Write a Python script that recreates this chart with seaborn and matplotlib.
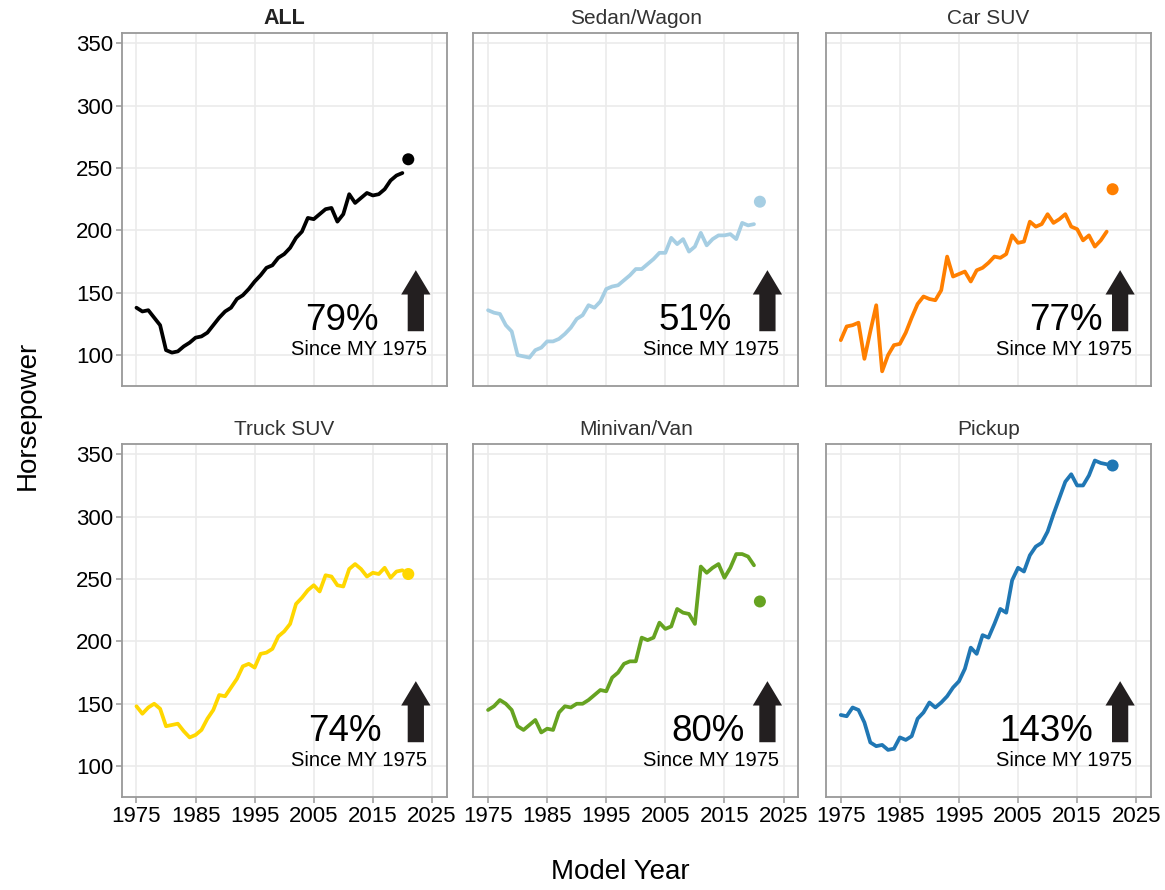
import numpy as np
import pandas as pd
import matplotlib
matplotlib.use("Agg")
import matplotlib.pyplot as plt
from matplotlib.patches import FancyArrow
import seaborn as sns

sns.set_theme(style="whitegrid")
plt.rcParams['font.family'] = ['Liberation Sans', 'DejaVu Sans']

# model years 1975-2020 (final data), 2021 shown as a point (preliminary)
years = list(range(1975, 2021))
prelim_year = 2021

hp_all = [138, 135, 136, 130, 124, 104, 102, 103, 107, 110, 114, 115, 118, 124, 130, 135,
          138, 145, 148, 153, 159, 164, 170, 172, 178, 181, 186, 194, 199, 210, 209, 213,
          217, 218, 207, 213, 229, 222, 226, 230, 228, 229, 233, 240, 244, 246]
hp_sedan = [136, 134, 133, 124, 119, 100, 99, 98, 104, 106, 111, 111, 113, 117, 122, 129,
            132, 140, 138, 143, 153, 155, 156, 160, 164, 169, 169, 173, 177, 182, 182, 194,
            189, 193, 183, 187, 198, 188, 193, 196, 196, 197, 193, 206, 204, 205]
hp_car_suv = [112, 123, 124, 126, 97, 119, 140, 87, 100, 108, 109, 118, 130, 141, 147, 145,
              144, 152, 179, 163, 165, 167, 159, 168, 170, 174, 179, 178, 181, 196, 190, 191,
              207, 203, 205, 213, 206, 209, 213, 203, 201, 192, 196, 187, 192, 199]
hp_truck_suv = [148, 142, 147, 150, 146, 132, 133, 134, 128, 123, 125, 129, 138, 145, 157, 156,
                163, 170, 180, 182, 179, 190, 191, 194, 204, 208, 214, 230, 235, 241, 245, 240,
                253, 252, 245, 244, 258, 262, 258, 252, 255, 254, 259, 251, 256, 257]
hp_minivan = [145, 148, 153, 150, 145, 132, 129, 133, 137, 127, 130, 129, 143, 148, 147, 150,
              150, 153, 157, 161, 160, 171, 175, 182, 184, 184, 203, 201, 203, 215, 210, 212,
              226, 223, 222, 214, 260, 255, 259, 262, 251, 259, 270, 270, 268, 261]
hp_pickup = [141, 140, 147, 145, 135, 119, 116, 117, 113, 114, 123, 121, 124, 138, 143, 151,
             147, 151, 156, 163, 168, 178, 195, 190, 205, 203, 214, 226, 223, 249, 259, 256,
             269, 276, 279, 288, 302, 315, 328, 334, 325, 325, 333, 345, 343, 342]

titles = ["ALL", "Sedan/Wagon", "Car SUV", "Truck SUV", "Minivan/Van", "Pickup"]
series = [hp_all, hp_sedan, hp_car_suv, hp_truck_suv, hp_minivan, hp_pickup]
prelim = [257, 223, 233, 254, 232, 341]
pct_labels = ["79%", "51%", "77%", "74%", "80%", "143%"]
colors = ["#000000", "#A6CEE3", "#FF7F00", "#FFD700", "#66A321", "#2077B4"]

# right edge of the percent label inside each panel (axes fraction)
pct_x = [0.79, 0.795, 0.851, 0.80, 0.836, 0.822]

fig = plt.figure(figsize=(11.65, 8.9), dpi=100)

lefts = [121.7, 473.3, 826]
tops = [33.3, 444.3]
pw, ph = 325, 353
W, H = 1165, 890

grid_c = "#EBEBEB"
frame_c = "#999999"

for i, (name, vals) in enumerate(zip(titles, series)):
    r, c = divmod(i, 3)
    ax = fig.add_axes([lefts[c] / W, 1 - (tops[r] + ph) / H, pw / W, ph / H])
    df = pd.DataFrame({"year": years, "hp": vals})
    sns.lineplot(data=df, x="year", y="hp", ax=ax, color=colors[i], lw=2.7)
    dot = pd.DataFrame({"year": [prelim_year], "hp": [prelim[i]]})
    sns.scatterplot(data=dot, x="year", y="hp", ax=ax, color=colors[i], s=75,
                    edgecolor="none", zorder=5)

    ax.set_xlim(1972.5, 2027.5)
    ax.set_ylim(75, 358)
    ax.set_xticks([1975, 1985, 1995, 2005, 2015, 2025])
    ax.set_yticks([100, 150, 200, 250, 300, 350])
    ax.grid(True, color=grid_c, lw=1.2)
    ax.set_axisbelow(True)
    for s in ax.spines.values():
        s.set_visible(True)
        s.set_color(frame_c)
        s.set_linewidth(1.3)
    ax.set_xlabel("")
    ax.set_ylabel("")
    ax.tick_params(axis="both", length=4, width=1.1, color=frame_c, labelsize=16,
                   labelcolor="black", pad=2)
    if c != 0:
        ax.tick_params(axis="y", left=False, labelleft=False)
    else:
        ax.tick_params(axis="y", left=True)
    if r == 0:
        ax.tick_params(axis="x", bottom=False, labelbottom=False)
    else:
        ax.tick_params(axis="x", bottom=True)

    if name == "ALL":
        ax.set_title(name, fontsize=15.5, fontweight="bold", color="#222222", pad=7)
    else:
        ax.set_title(name, fontsize=15, color="#333333", pad=7)

    ax.text(pct_x[i], 0.16, pct_labels[i], transform=ax.transAxes, ha="right",
            va="baseline", fontsize=26.5, color="black")
    ax.text(0.94, 0.088, "Since MY 1975", transform=ax.transAxes, ha="right",
            va="baseline", fontsize=14.5, color="black")
    arrow = FancyArrow(0.905, 0.156, 0, 0.173, width=0.05, head_width=0.09,
                       head_length=0.069, length_includes_head=True,
                       transform=ax.transAxes, color="#231F20", lw=0)
    ax.add_patch(arrow)

fig.text(28 / W, 1 - 415 / H, "Horsepower", rotation=90, ha="center", va="center",
         fontsize=20, color="black")
fig.text(620 / W, 1 - 872 / H, "Model Year", ha="center", va="center",
         fontsize=20, color="black")

fig.savefig("out.png", dpi=100, facecolor="white")
